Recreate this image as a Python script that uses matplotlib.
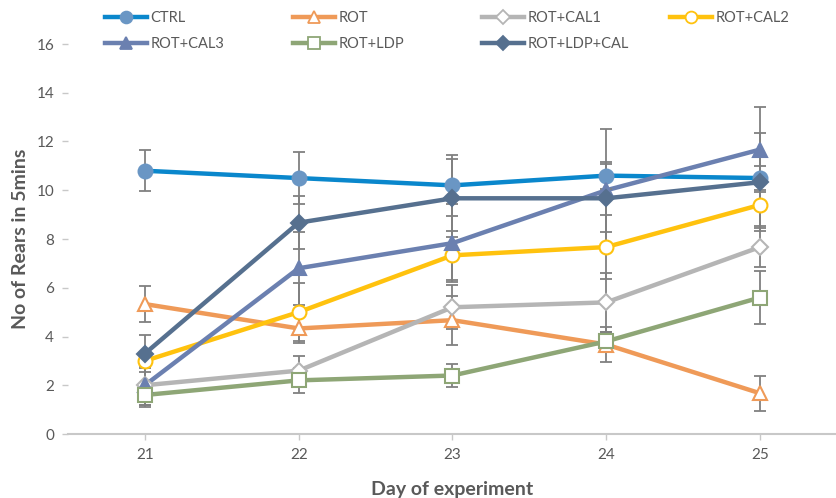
import matplotlib
matplotlib.use("Agg")
import matplotlib.pyplot as plt
from matplotlib.lines import Line2D

plt.rcParams['font.family'] = ['Lato', 'DejaVu Sans']

days = [21, 22, 23, 24, 25]

series_names = ["CTRL", "ROT", "ROT+CAL1", "ROT+CAL2", "ROT+CAL3", "ROT+LDP", "ROT+LDP+CAL"]

ctrl = [10.8, 10.5, 10.2, 10.6, 10.5]
rot = [5.33, 4.33, 4.67, 3.67, 1.67]
rot_cal1 = [2.0, 2.6, 5.2, 5.4, 7.67]
rot_cal2 = [3.0, 5.0, 7.33, 7.67, 9.4]
rot_cal3 = [2.0, 6.8, 7.83, 10.0, 11.67]
rot_ldp = [1.6, 2.2, 2.4, 3.8, 5.6]
rot_ldp_cal = [3.3, 8.67, 9.67, 9.67, 10.33]

ctrl_err = [0.85, 1.05, 1.25, 0.55, 0.5]
rot_err = [0.75, 0.6, 1.0, 0.7, 0.72]
rot_cal1_err = [0.8, 0.6, 0.9, 1.2, 0.8]
rot_cal2_err = [0.3, 1.2, 1.0, 1.3, 0.85]
rot_cal3_err = [0.9, 1.5, 1.6, 2.5, 1.75]
rot_ldp_err = [0.4, 0.5, 0.47, 0.4, 1.1]
rot_ldp_cal_err = [0.75, 1.1, 1.6, 1.4, 2.0]

values = [ctrl, rot, rot_cal1, rot_cal2, rot_cal3, rot_ldp, rot_ldp_cal]
errors = [ctrl_err, rot_err, rot_cal1_err, rot_cal2_err, rot_cal3_err, rot_ldp_err, rot_ldp_cal_err]

# line colour, marker, marker face, marker edge, marker size
styles = [
    ("#0a87cc", "o", "#6a96c4", "#6a96c4", 10),
    ("#ef9a58", "^", "white", "#ef9a58", 10),
    ("#b5b5b5", "D", "white", "#b5b5b5", 8.5),
    ("#ffc20e", "o", "white", "#ffc20e", 10),
    ("#6b80b0", "^", "#6b80b0", "#6b80b0", 10),
    ("#8ea676", "s", "white", "#8ea676", 10.5),
    ("#56708f", "D", "#56708f", "#56708f", 8.5),
]

fig = plt.figure(figsize=(8.37, 4.98), dpi=100)
ax = fig.add_axes([68 / 837, (498 - 434) / 498, 769 / 837, 390 / 498])

for vals, errs, (lc, mk, mfc, mec, ms) in zip(values, errors, styles):
    ax.plot(days, vals, color=lc, lw=3.2, zorder=2, solid_capstyle="round")
    ax.errorbar(days, vals, yerr=errs, fmt="none", ecolor="#808080",
                elinewidth=1.3, capsize=4.5, capthick=1.3, zorder=3)
    ax.plot(days, vals, linestyle="none", marker=mk, ms=ms, mfc=mfc, mec=mec,
            mew=1.5, zorder=4)

ax.set_xlim(20.5, 25.5)
ax.set_ylim(0, 16)
ax.set_xticks(days)
ax.set_yticks(range(0, 17, 2))

for side in ("top", "right", "left"):
    ax.spines[side].set_visible(False)
ax.spines["bottom"].set_color("#c8c8c8")
ax.spines["bottom"].set_linewidth(1.5)
ax.tick_params(axis="x", colors="#c8c8c8", length=4, width=1, labelcolor="#595959",
               labelsize=11, pad=6)
ax.tick_params(axis="y", colors="#c8c8c8", length=4, width=1, labelcolor="#595959",
               labelsize=11, pad=6)

ax.set_xlabel("Day of experiment", fontsize=14, fontweight="bold", color="#595959", labelpad=14)
ax.set_ylabel("No of Rears in 5mins", fontsize=14, fontweight="bold", color="#595959", labelpad=5)

handles = []
for (lc, mk, mfc, mec, ms) in styles:
    handles.append(Line2D([0], [0], color=lc, lw=3.2, marker=mk, ms=ms * 0.85,
                          mfc=mfc, mec=mec, mew=1.3))

# legend laid out as four evenly spaced columns of two rows
columns = [[0, 4], [1, 5], [2, 6], [3]]
col_x = [105, 293, 482, 670]
for cols, x in zip(columns, col_x):
    fig.legend([handles[i] for i in cols], [series_names[i] for i in cols],
               loc="upper left", bbox_to_anchor=(x / 837, 1 - 11 / 498),
               frameon=False, fontsize=10.5, handlelength=2.9, handletextpad=0.2,
               labelspacing=0.8, borderpad=0, borderaxespad=0,
               labelcolor="#595959")

fig.savefig("out.png", dpi=100)
